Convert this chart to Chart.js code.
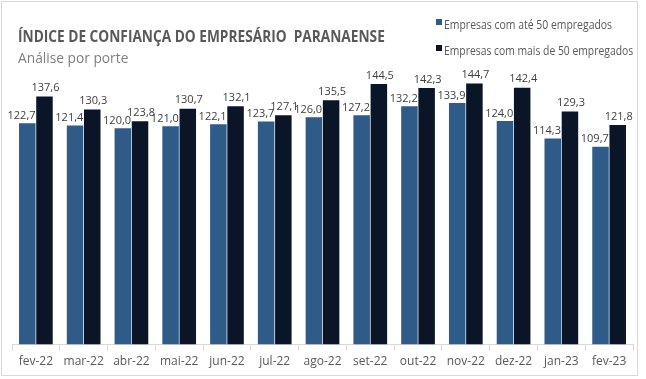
<!DOCTYPE html>
<html><head><meta charset="utf-8">
<script src="https://cdn.jsdelivr.net/npm/chart.js@4/dist/chart.umd.min.js"></script>
<style>
html,body{margin:0;padding:0;background:#fff;}
#wrap{position:relative;width:646px;height:379px;overflow:hidden;}
#frame{position:absolute;left:1px;top:1px;width:637px;height:375px;border:1px solid #d9d9d9;box-sizing:border-box;}
.fit{position:absolute;white-space:pre;transform-origin:0 50%;line-height:1;}
#title{left:18px;top:25px;font:bold 16px "Open Sans",sans-serif;color:#595959;}
#subtitle{left:18px;top:47px;font:15px "Open Sans",sans-serif;color:#7f7f7f;}
.leg{left:444px;font:12px "Open Sans",sans-serif;color:#595959;}
.mk{position:absolute;left:436px;width:6px;height:6px;}
canvas{position:absolute;left:0;top:0;}
</style></head>
<body><div id="wrap">
<div id="frame"></div>
<canvas id="c" width="646" height="379"></canvas>
<div id="title" class="fit" data-w="367">ÍNDICE DE CONFIANÇA DO EMPRESÁRIO  PARANAENSE</div>
<div id="subtitle" class="fit" data-w="110">Análise por porte</div>
<div class="mk" style="top:19px;background:#2f5b88"></div>
<div class="fit leg" style="top:16px" data-w="168">Empresas com até 50 empregados</div>
<div class="mk" style="top:45px;background:#0a1628"></div>
<div class="fit leg" style="top:42px" data-w="189">Empresas com mais de 50 empregados</div>
</div>
<script>
const categories = ["fev-22","mar-22","abr-22","mai-22","jun-22","jul-22","ago-22","set-22","out-22","nov-22","dez-22","jan-23","fev-23"];
const ate50 = [122.7,121.4,120.0,121.0,122.1,123.7,126.0,127.2,132.2,133.9,124.0,114.3,109.7];
const mais50 = [137.6,130.3,123.8,130.7,132.1,127.1,135.5,144.5,142.3,144.7,142.4,129.3,121.8];
const seriesNames = ["Empresas com até 50 empregados","Empresas com mais de 50 empregados"];

document.querySelectorAll('.fit').forEach(el=>{
  const w = +el.dataset.w;
  const s = w / el.offsetWidth;
  el.style.transform = 'scaleX(' + s + ')';
});

const labelPlugin = {
  id:'valueLabels',
  afterDatasetsDraw(chart){
    const ctx = chart.ctx;
    ctx.save();
    ctx.font = '11px "Open Sans", sans-serif';
    ctx.fillStyle = '#404040';
    ctx.textBaseline = 'bottom';
    chart.data.datasets.forEach((ds,i)=>{
      const meta = chart.getDatasetMeta(i);
      meta.data.forEach((el,j)=>{
        const v = ds.data[j].toFixed(1).replace('.',',');
        if (i === 0) {
          ctx.textAlign = 'right';
          ctx.fillText(v, el.x + el.width/2, el.y - 2);
        } else {
          ctx.textAlign = 'center';
          ctx.fillText(v, el.x + 1, el.y - 3);
        }
      });
    });
    ctx.restore();
  }
};

new Chart(document.getElementById('c'), {
  type:'bar',
  data:{
    labels: categories,
    datasets:[
      {label: seriesNames[0], data: ate50, backgroundColor:'#2f5b88'},
      {label: seriesNames[1], data: mais50, backgroundColor:'#0a1628'}
    ]
  },
  options:{
    responsive:false,
    animation:false,
    devicePixelRatio:1,
    layout:{padding:{left:12,right:13,top:56,bottom:6}},
    plugins:{legend:{display:false},title:{display:false},tooltip:{enabled:false}},
    datasets:{bar:{categoryPercentage:0.72,barPercentage:0.96}},
    scales:{
      y:{display:false,min:0,max:160},
      x:{
        grid:{display:true,offset:true,drawOnChartArea:false,tickLength:6,color:'#d9d9d9'},
        border:{display:true,color:'#d9d9d9'},
        ticks:{color:'#595959',font:{family:'"Open Sans", sans-serif',size:12},padding:4,maxRotation:0}
      }
    }
  },
  plugins:[labelPlugin]
});
</script>
</body></html>
